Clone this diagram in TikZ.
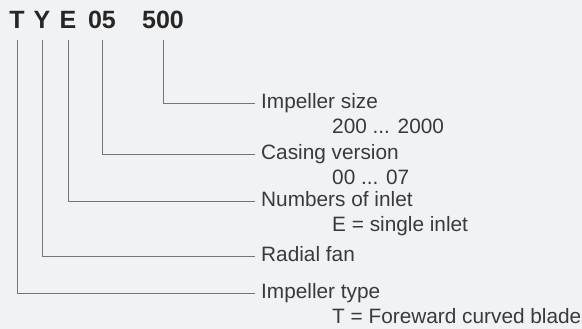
\documentclass[tikz,border=0pt]{standalone}
\usepackage{fontspec}
\setmainfont{Liberation Sans}
\usetikzlibrary{positioning}
\definecolor{panel}{HTML}{F1F2F4}
\definecolor{ink}{HTML}{3A3A3C}
\definecolor{leader}{HTML}{747476}
\begin{document}
\begin{tikzpicture}[x=1pt, y=-1pt,
  code/.style={font=\fontsize{25}{25}\selectfont\bfseries, text=black!85,
    inner sep=0pt, text depth=0pt, anchor=base},
  lab/.style={font=\fontsize{20.8}{21}\selectfont, text=ink, anchor=west,
    inner xsep=6pt, inner ysep=0pt, text height=11pt, text depth=0pt},
  val/.style={font=\fontsize{20.8}{21}\selectfont, text=ink,
    anchor=base west, inner sep=0pt},
  lead/.style={draw=leader, line width=0.8pt, shorten <=11pt}]
\def\xlab{255}
\def\xval{332}
\fill[panel] (0,0) rectangle (582,329);

% type code
\node[code] (codeT) at (17,29) {T};
\node[code] (codeY) at (42,29) {Y};
\node[code] (codeE) at (68,29) {E};
\node[code] (codeCase) at (102,29) {05};
\node[code] (codeSize) at (163,29) {500};

% meanings
\node[lab] (sizeLab) at (\xlab,103) {Impeller size};
\node[val] (sizeVal) at (\xval,133.5) {200 ... 2000};
\node[lab] (caseLab) at (\xlab,154) {Casing version};
\node[val] (caseVal) at (\xval,184.5) {00 ... 07};
\node[lab] (inletLab) at (\xlab,201) {Numbers of inlet};
\node[val] (inletVal) at (\xval,231.5) {E = single inlet};
\node[lab] (fanLab) at (\xlab,256) {Radial fan};
\node[lab] (typeLab) at (\xlab,293) {Impeller type};
\node[val] (typeVal) at (\xval,323.5) {T = Foreward curved blade};

\draw[lead] (codeSize.south) |- (sizeLab.west);
\draw[lead] (codeCase.south) |- (caseLab.west);
\draw[lead] (codeE.south) |- (inletLab.west);
\draw[lead] (codeY.south) |- (fanLab.west);
\draw[lead] (codeT.south) |- (typeLab.west);
\end{tikzpicture}
\end{document}
